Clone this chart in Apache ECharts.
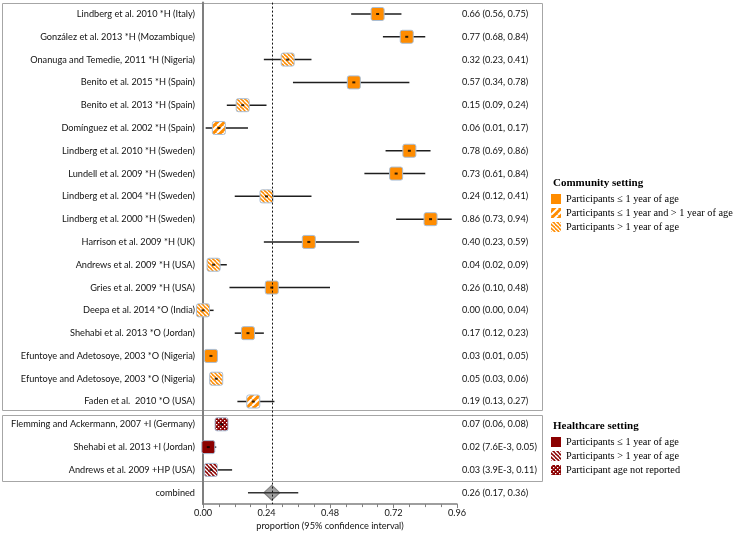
<!DOCTYPE html>
<html>
<head>
<meta charset="utf-8">
<script src="https://cdn.jsdelivr.net/npm/echarts@6/dist/echarts.min.js"></script>
<style>
  html, body { margin: 0; padding: 0; background: #fff; }
  #main { width: 737px; height: 536px; }
</style>
</head>
<body>
<div id="main"></div>
<script>
// study rows, top to bottom (last one is the pooled estimate)
var studies = [
  'Lindberg et al. 2010 *H (Italy)',
  'González et al. 2013 *H (Mozambique)',
  'Onanuga and Temedie, 2011 *H (Nigeria)',
  'Benito et al. 2015 *H (Spain)',
  'Benito et al. 2013 *H (Spain)',
  'Domínguez et al. 2002 *H (Spain)',
  'Lindberg et al. 2010 *H (Sweden)',
  'Lundell et al. 2009 *H (Sweden)',
  'Lindberg et al. 2004 *H (Sweden)',
  'Lindberg et al. 2000 *H (Sweden)',
  'Harrison et al. 2009 *H (UK)',
  'Andrews et al. 2009 *H (USA)',
  'Gries et al. 2009 *H (USA)',
  'Deepa et al. 2014 *O (India)',
  'Shehabi et al. 2013 *O (Jordan)',
  'Efuntoye and Adetosoye, 2003 *O (Nigeria)',
  'Efuntoye and Adetosoye, 2003 *O (Nigeria)',
  'Faden et al.  2010 *O (USA)',
  'Flemming and Ackermann, 2007 +I (Germany)',
  'Shehabi et al. 2013 +I (Jordan)',
  'Andrews et al. 2009 +HP (USA)',
  'combined'
];
var est  = [0.66, 0.77, 0.32, 0.57, 0.15, 0.06, 0.78, 0.73, 0.24, 0.86, 0.40, 0.04, 0.26, 0.00, 0.17, 0.03, 0.05, 0.19, 0.07, 0.02, 0.03, 0.26];
var low  = [0.56, 0.68, 0.23, 0.34, 0.09, 0.01, 0.69, 0.61, 0.12, 0.73, 0.23, 0.02, 0.10, 0.00, 0.12, 0.01, 0.03, 0.13, 0.06, 0.0076, 0.0039, 0.17];
var high = [0.75, 0.84, 0.41, 0.78, 0.24, 0.17, 0.86, 0.84, 0.41, 0.94, 0.59, 0.09, 0.48, 0.04, 0.23, 0.05, 0.06, 0.27, 0.08, 0.05, 0.11, 0.36];
// 0-2 community groups, 3-5 healthcare groups, -1 pooled
var group = [0, 0, 2, 0, 2, 1, 0, 0, 2, 0, 0, 2, 0, 2, 0, 0, 2, 1, 5, 3, 4, -1];
var groupNames = [
  'C|Participants ≤ 1 year of age',
  'C|Participants ≤ 1 year and > 1 year of age',
  'C|Participants > 1 year of age',
  'H|Participants ≤ 1 year of age',
  'H|Participants > 1 year of age',
  'H|Participant age not reported'
];
var xTicks = [0, 0.24, 0.48, 0.72, 0.96];

var ORANGE = '#ff8c00', DARKRED = '#8b0000';

function fmt(v) {
  if (v > 0 && v < 0.01) return v.toExponential(1).replace('e', 'E');
  return v.toFixed(2);
}
var ciText = est.map(function (v, i) {
  return fmt(v) + ' (' + fmt(low[i]) + ', ' + fmt(high[i]) + ')';
});

// hatch fills
function stripes(base, period, band, up) {
  var c = document.createElement('canvas');
  c.width = c.height = period;
  var g = c.getContext('2d');
  g.fillStyle = base; g.fillRect(0, 0, period, period);
  g.strokeStyle = '#fff'; g.lineWidth = band;
  for (var k = -1; k <= 1; k++) {
    g.beginPath();
    if (up) { g.moveTo(k * period, period); g.lineTo(k * period + period, 0); }
    else { g.moveTo(k * period, 0); g.lineTo(k * period + period, period); }
    g.stroke();
  }
  return { image: c, repeat: 'repeat' };
}
function dots(base) {
  var c = document.createElement('canvas');
  c.width = c.height = 4;
  var g = c.getContext('2d');
  g.fillStyle = base; g.fillRect(0, 0, 4, 4);
  g.fillStyle = '#fff';
  g.fillRect(0, 0, 1.3, 1.3); g.fillRect(2, 2, 1.3, 1.3);
  return { image: c, repeat: 'repeat' };
}
var fills = [
  ORANGE,
  stripes(ORANGE, 7, 2, true),
  stripes(ORANGE, 4, 1.3, false),
  DARKRED,
  stripes(DARKRED, 4, 1.3, false),
  dots(DARKRED)
];

var rows = est.map(function (v, i) { return [v, i, low[i], high[i]]; });
var rowIds = studies.map(function (s, i) { return String(i); });

function ciLine(color) {
  return function (params, api) {
    var a = api.coord([api.value(2), api.value(1)]);
    var b = api.coord([api.value(3), api.value(1)]);
    return { type: 'line', shape: { x1: a[0], y1: a[1], x2: b[0], y2: b[1] },
             style: { stroke: color, lineWidth: 1.5 } };
  };
}

var series = [];
// confidence intervals
series.push({
  type: 'custom',
  z: 2,
  silent: true,
  encode: { x: [0, 2, 3], y: 1 },
  data: rows.slice(0, rows.length - 1),
  renderItem: ciLine('#1e1e1e')
});
// study boxes per group
groupNames.forEach(function (name, g) {
  series.push({
    name: name,
    type: 'custom',
    z: 3,
    silent: true,
    itemStyle: { color: fills[g] },
    encode: { x: 0, y: 1 },
    data: rows.filter(function (r) { return group[r[1]] === g; }).map(function (r) { return [r[0], r[1]]; }),
    renderItem: function (params, api) {
      var p = api.coord([api.value(0), api.value(1)]);
      return { type: 'rect', shape: { x: p[0] - 6.5, y: p[1] - 6.5, width: 13, height: 13, r: 2 },
               style: { fill: fills[g], stroke: '#a9bed6', lineWidth: 1 } };
    }
  });
});
// pooled diamond + reference line
series.push({
  type: 'scatter',
  z: 3,
  silent: true,
  symbol: 'diamond',
  symbolSize: [16, 15],
  itemStyle: { color: '#8a8a8a', borderColor: '#6e6e6e', borderWidth: 1 },
  data: rows.filter(function (r) { return group[r[1]] === -1; }).map(function (r) { return [r[0], r[1]]; }),
  markLine: {
    silent: true,
    symbol: 'none',
    label: { show: false },
    lineStyle: { color: '#111', type: [2, 2], width: 1 },
    data: [{ xAxis: est[est.length - 1] }]
  }
});
series.push({
  type: 'custom',
  z: 4,
  silent: true,
  encode: { x: [0, 2, 3], y: 1 },
  data: rows.slice(rows.length - 1),
  renderItem: ciLine('#333')
});
// point marks inside the boxes
series.push({
  type: 'scatter',
  z: 5,
  silent: true,
  symbol: 'rect',
  symbolSize: [3, 2],
  itemStyle: { color: '#000' },
  data: rows.slice(0, rows.length - 1).map(function (r) { return [r[0], r[1]]; })
});

var labelFont = { fontFamily: 'Lato', fontSize: 9.2, color: '#111' };
var legendBase = {
  orient: 'vertical',
  left: 551,
  padding: 0,
  icon: 'rect',
  itemWidth: 10,
  itemHeight: 10,
  itemGap: 4,
  selectedMode: false,
  itemStyle: { borderWidth: 0 },
  textStyle: { fontFamily: 'Liberation Serif', fontSize: 10.3, color: '#000' },
  formatter: function (n) { return n.split('|')[1]; }
};

var chart = echarts.init(document.getElementById('main'));
var option = {
  animation: false,
  backgroundColor: '#fff',
  grid: { left: 203, right: 280, top: 2.6, bottom: 30.6, containLabel: false },
  xAxis: {
    type: 'value',
    min: xTicks[0],
    max: xTicks[xTicks.length - 1],
    interval: xTicks[1] - xTicks[0],
    axisLine: { show: true, lineStyle: { color: '#7f7f7f', width: 1.5 } },
    axisTick: { show: true, length: 4, lineStyle: { color: '#7f7f7f' } },
    minorTick: { show: true, splitNumber: 4, length: 3, lineStyle: { color: '#7f7f7f' } },
    splitLine: { show: false },
    axisLabel: { margin: 4, formatter: function (v) { return v.toFixed(2); }, fontFamily: 'Lato', fontSize: 9.2, color: '#111' },
    name: 'proportion (95% confidence interval)',
    nameLocation: 'middle',
    nameGap: 17,
    nameTextStyle: { fontFamily: 'Lato', fontSize: 9.2, color: '#111' }
  },
  yAxis: [{
    type: 'category',
    inverse: true,
    data: rowIds,
    axisLine: { show: true, lineStyle: { color: '#7f7f7f', width: 2 } },
    axisTick: { show: false },
    splitLine: { show: false },
    axisLabel: Object.assign({ margin: 8, interval: 0, formatter: function (v) { return studies[+v]; } }, labelFont)
  }, {
    type: 'category',
    inverse: true,
    position: 'right',
    data: rowIds,
    axisLine: { show: false },
    axisTick: { show: false },
    splitLine: { show: false },
    axisLabel: Object.assign({ margin: 5, interval: 0, align: 'left', formatter: function (v) { return ciText[+v]; } }, labelFont)
  }],
  legend: [
    Object.assign({ top: 194, data: groupNames.slice(0, 3) }, legendBase),
    Object.assign({ top: 437, data: groupNames.slice(3) }, legendBase)
  ],
  graphic: [
    { type: 'rect', z: 0, silent: true, shape: { x: 2.5, y: 3.5, width: 540, height: 407 },
      style: { fill: null, stroke: '#a6a6a6', lineWidth: 1 } },
    { type: 'rect', z: 0, silent: true, shape: { x: 2.5, y: 415.5, width: 540, height: 66 },
      style: { fill: null, stroke: '#a6a6a6', lineWidth: 1 } },
    { type: 'text', left: 553, top: 178,
      style: { text: 'Community setting', font: 'bold 11px "Liberation Serif"', fill: '#000' } },
    { type: 'text', left: 553, top: 421,
      style: { text: 'Healthcare setting', font: 'bold 11px "Liberation Serif"', fill: '#000' } }
  ],
  series: series
};
chart.setOption(option);
</script>
</body>
</html>
